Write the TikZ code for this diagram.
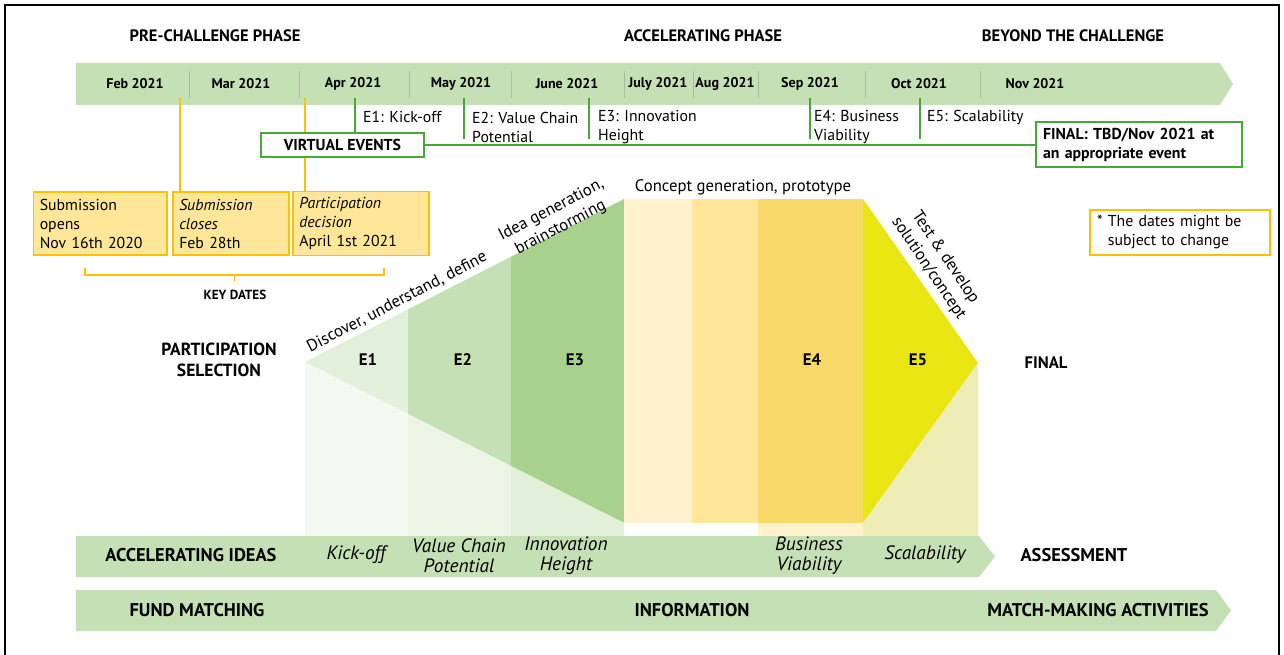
\documentclass[tikz,border=0pt]{standalone}
\usepackage{fontspec}
\setmainfont{PT Sans}
\usetikzlibrary{shapes,backgrounds}
\usetikzlibrary{arrows}

\definecolor{bargreen}{HTML}{C5E0B4}
\definecolor{linegreen}{HTML}{46A838}
\definecolor{sepgray}{HTML}{A8BC9C}
\definecolor{keyyellow}{HTML}{FFC000}
\definecolor{keyfill}{HTML}{FFE699}
\definecolor{eonegreen}{HTML}{E2EFDA}
\definecolor{etwogreen}{HTML}{C5E0B4}
\definecolor{ethreegreen}{HTML}{A9D18E}
\definecolor{paleone}{HTML}{F3F8F0}
\definecolor{paletwo}{HTML}{EBF4E5}
\definecolor{palethree}{HTML}{E2EFDA}
\definecolor{cream}{HTML}{FFF2CC}
\definecolor{sand}{HTML}{FFE699}
\definecolor{gold}{HTML}{F9D86A}
\definecolor{lime}{HTML}{EAE614}
\definecolor{palelime}{HTML}{EEEDB5}

\begin{document}
\begin{tikzpicture}[x=0.02cm, y=-0.02cm,
  font=\fontsize{9}{10.8}\selectfont,
  phase/.style={font=\fontsize{9.4}{11}\selectfont\bfseries},
  month/.style={font=\fontsize{8}{10}\selectfont\bfseries},
  evline/.style={draw=linegreen, line width=0.8pt},
  keyline/.style={draw=keyyellow, line width=0.8pt},
  datebox/.style={draw=keyyellow, fill=keyfill, line width=0.8pt, align=left,
    inner xsep=3.5pt, minimum height=1.26cm},
  funnel text/.style={font=\fontsize{9.5}{11.5}\selectfont},
  barlabel/.style={font=\fontsize{10.5}{12}\selectfont\bfseries},
  steplabel/.style={font=\fontsize{11}{11.5}\selectfont\itshape, align=center}]

\useasboundingbox (0,0) rectangle (1284,655);
\draw[line width=1.1pt] (5,5) rectangle (1279,690); % frame

% phases and months
\node[phase] (pre) at (215,36) {PRE-CHALLENGE PHASE};
\node[phase] (acc) at (703,36) {ACCELERATING PHASE};
\node[phase] (beyond) at (1073,36) {BEYOND THE CHALLENGE};

\fill[bargreen] (76,63) -- (1220,63) -- (1233,84) -- (1220,105) -- (76,105) -- cycle;
\foreach \x in {189,299,409,511,624,693,758,865,980}
  \draw[sepgray, line width=0.5pt] (\x,71) -- (\x,98);
\foreach \x/\m [count=\i] in {135/Feb 2021, 241/Mar 2021, 353/Apr 2021, 461/May 2021,
    567/June 2021, 658/July 2021, 725/Aug 2021, 810/Sep 2021, 919/Oct 2021, 1035/Nov 2021}
  \node[month] (m\i) at (\x,84) {\m};

% key dates
\coordinate (tsub) at (180,98);
\coordinate (tdec) at (305,98);
\node[datebox, text width=2.42cm] (opens) at (100.25,223.5) {Submission\\opens\\Nov 16th 2020};
\node[datebox, text width=2.07cm] (closes) at (231,223.5) {\textit{Submission}\\\textit{closes}\\Feb 28th};
\node[datebox, text width=2.47cm] (decision) at (361,223.5) {\textit{Participation}\\\textit{decision}\\April 1st 2021};
\draw[keyline] (tsub) -- (tsub |- closes.north);
\draw[keyline] (tdec) -- (tdec |- decision.north);
\draw[keyline] (85,268) -- (85,275) -- (384,275) -- (384,268);
\draw[keyline] (234.5,275) -- (234.5,281);
\node[font=\fontsize{7.5}{9}\selectfont\bfseries] (keydates) at (235,295) {KEY DATES};

% virtual events
\coordinate (e1) at (355,98);
\foreach \x/\n in {464/2, 589/3, 810/4, 920/5}
  \coordinate (e\n) at (\x,98);
\node[draw=linegreen, line width=0.8pt, fill=white, minimum width=3.26cm, minimum height=0.48cm,
  font=\fontsize{9}{11}\selectfont\bfseries] (virtual) at (342.5,145) {VIRTUAL EVENTS};
\node[draw=linegreen, line width=0.8pt, fill=white, align=left, inner xsep=4pt, text width=3.84cm,
  minimum height=0.9cm, font=\fontsize{9}{10.8}\selectfont\bfseries] (final) at (1139,144.5)
  {FINAL: TBD/Nov 2021 at\\an appropriate event};
\draw[evline] (virtual.east) -- (final.west |- virtual.east);
\draw[evline] (e1) -- (e1 |- virtual.north);
\foreach \n in {2,...,5}
  \draw[evline] (e\n) -- ++(0,41);
\node[anchor=west] (ev1) at (357,117) {E1: Kick-off};
\node[anchor=west, align=left] (ev2) at (466,127) {E2: Value Chain\\Potential};
\node[anchor=west, align=left] (ev3) at (592,127) {E3: Innovation\\Height};
\node[anchor=west, align=left] (ev4) at (808,127) {E4: Business\\Viability};
\node[anchor=west] (ev5) at (921,117) {E5: Scalability};

\node[draw=keyyellow, line width=0.8pt, align=left, inner xsep=4pt, text width=3.32cm,
  minimum height=0.86cm] (note) at (1180,232.5) {* The dates might be\\\hphantom{* }subject to change};

% funnel, greens
\fill[eonegreen] (305,362) -- (408,309.4) -- (408,414) -- cycle;
\fill[etwogreen] (408,309.4) -- (511,256.7) -- (511,466) -- (408,414) -- cycle;
\fill[ethreegreen] (511,256.7) -- (624,199) -- (624,523) -- (511,466) -- cycle;
\fill[paleone] (305,362) -- (408,414) -- (408,536) -- (305,536) -- cycle;
\fill[paletwo] (408,414) -- (511,466) -- (511,536) -- (408,536) -- cycle;
\fill[palethree] (511,466) -- (624,523) -- (624,536) -- (511,536) -- cycle;
% funnel, yellows
\fill[cream] (624,199) rectangle (692,523);
\fill[sand] (692,199) rectangle (758,523);
\fill[gold] (758,199) rectangle (863,523);
\fill[cream] (758,523) rectangle (863,536);
\fill[lime] (863,199) -- (978,363) -- (863,523) -- cycle;
\fill[palelime] (863,523) -- (978,363) -- (978,536) -- (863,536) -- cycle;

\foreach \x/\e in {368/1, 463/2, 575/3, 812/4, 918/5}
  \node[font=\fontsize{9.5}{11}\selectfont\bfseries] (E\e) at (\x,360) {E\e};
\node[font=\fontsize{10}{11.8}\selectfont\bfseries, align=center] (selection) at (219,360)
  {PARTICIPATION\\SELECTION};
\node[font=\fontsize{9.5}{11}\selectfont\bfseries] (finalstep) at (1046,363) {FINAL};

\node[funnel text, rotate=27.5] (discover) at (397,302) {Discover, understand, define};
\node[funnel text, rotate=27.5, align=center] (idea) at (556,219) {Idea generation,\\brainstorming};
\node[funnel text] (concept) at (743,187) {Concept generation, prototype};
\node[funnel text, rotate=-56, align=center] (test) at (937,263) {Test \& develop\\solution/concept};

% bottom bars
\fill[bargreen] (76,536) -- (979,536) -- (995,556.5) -- (979,577) -- (76,577) -- cycle;
\fill[bargreen] (76,590) -- (1216,590) -- (1231,610.5) -- (1216,631) -- (76,631) -- cycle;
\node[barlabel] (ideas) at (191,555) {ACCELERATING IDEAS};
\node[steplabel] (kick) at (356,555) {Kick-off};
\node[steplabel] (chain) at (459,556) {Value Chain\\Potential};
\node[steplabel] (height) at (566,556) {Innovation\\Height};
\node[steplabel] (viability) at (809,556) {Business\\Viability};
\node[steplabel] (scal) at (925,555) {Scalability};
\node[barlabel] (assess) at (1074,555) {ASSESSMENT};
\node[barlabel] (fund) at (197,610) {FUND MATCHING};
\node[barlabel] (info) at (692,610) {INFORMATION};
\node[barlabel] (match) at (1098,610) {MATCH-MAKING ACTIVITIES};
\end{tikzpicture}
\end{document}
